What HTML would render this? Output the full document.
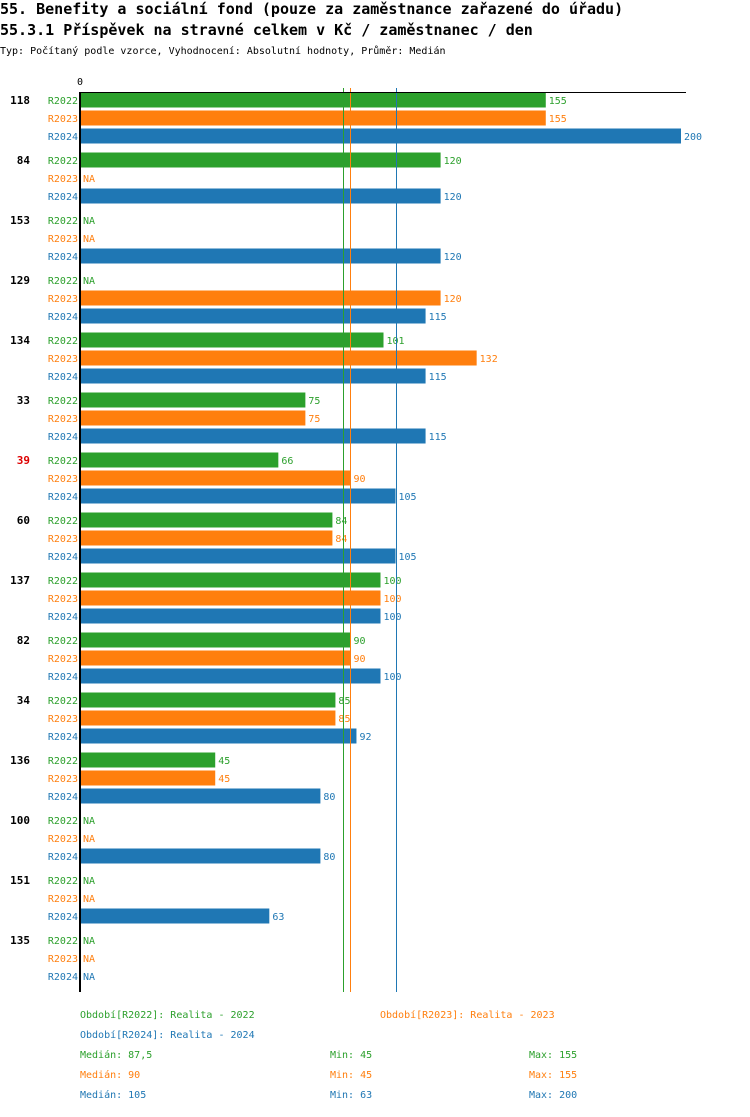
<!DOCTYPE html>
<html><head><meta charset="utf-8"><style>
body{margin:0;background:#fff;width:750px;height:1112px;overflow:hidden}
svg text{font-family:"DejaVu Sans Mono","Liberation Mono",monospace}
</style></head><body>
<svg width="750" height="1112">
<text x="0" y="14" font-size="15" font-weight="bold">55. Benefity a sociální fond (pouze za zaměstnance zařazené do úřadu)</text>
<text x="0" y="35" font-size="15" font-weight="bold">55.3.1 Příspěvek na stravné celkem v Kč / zaměstnanec / den</text>
<text x="0" y="54" font-size="10">Typ: Počítaný podle vzorce, Vyhodnocení: Absolutní hodnoty, Průměr: Medián</text>
<g id="plot"></g>
<g id="legend"></g>
</svg>
<script>
const categories=["118","84","153","129","134","33","39","60","137","82","34","136","100","151","135"];
const highlighted=["39"];
const series=["R2022","R2023","R2024"];
const r2022=[155,120,null,null,101,75,66,84,100,90,85,45,null,null,null];
const r2023=[155,null,null,120,132,75,90,84,100,90,85,45,null,null,null];
const r2024=[200,120,120,115,115,115,105,105,100,100,92,80,80,63,null];
const medians=[87.5,90,105];
const medianText=["87,5","90","105"];
const mins=[45,45,63];
const maxs=[155,155,200];
const colors=["#2ca02c","#ff7f0e","#1f77b4"];
const NS="http://www.w3.org/2000/svg";
const x0=80,xscale=601/200,top0=100,groupH=60,rowH=18,barH=15;
const X=v=>x0+v*xscale;
const g=document.getElementById('plot');
function mk(tag,attrs,parent,txt){const e=document.createElementNS(NS,tag);for(const k in attrs)e.setAttribute(k,attrs[k]);if(txt!==undefined)e.textContent=txt;(parent||g).appendChild(e);return e;}
const data=[r2022,r2023,r2024];
categories.forEach((c,i)=>{
  const gy=top0+i*groupH;
  const t=mk('text',{x:30,y:gy+4,'font-size':11,'font-weight':'bold','text-anchor':'end',fill:highlighted.includes(c)?'#d00':'#000'},g,c);
  
  
  data.forEach((arr,s)=>{
    const cy=gy+s*rowH;
    const l=mk('text',{x:78,y:cy+4,'font-size':10,'text-anchor':'end',fill:colors[s]},g,series[s]);
    
    
    const v=arr[i];
    if(v!==null){
      const r=mk('rect',{x:X(0),y:cy-7.5,width:X(v)-X(0),height:barH,fill:colors[s]});
      
      
    }
    const vt=mk('text',{x:(v===null?X(0):X(v))+3,y:cy+4,'font-size':10,fill:colors[s]},g,v===null?'NA':String(v));
    
    
  });
});
medians.forEach((m,s)=>{
  const px=Math.round(X(m))+0.5;
  const ln=mk('line',{x1:px,x2:px,y1:88,y2:992,stroke:colors[s],'stroke-width':1});
  
  
});
const ax=mk('line',{x1:80,x2:80,y1:92,y2:992,stroke:'#000','stroke-width':2});


const tx=mk('line',{x1:79,x2:686,y1:92.5,y2:92.5,stroke:'#000','stroke-width':1});


const zt=mk('text',{x:80,y:85,'font-size':10,'text-anchor':'middle'},g,'0');


const lg=document.getElementById('legend');
const lpos=[[80,1018],[380,1018],[80,1038]];
const lyears=["2022","2023","2024"];
series.forEach((s,i)=>{
  const e=mk('text',{x:lpos[i][0],y:lpos[i][1],'font-size':10,fill:colors[i]},lg,'Období['+s+']: Realita - '+lyears[i]);
  
  
  const y=1058+i*20;
  const a=mk('text',{x:80,y:y,'font-size':10,fill:colors[i]},lg,'Medián: '+medianText[i]);
  
  
  const b=mk('text',{x:330,y:y,'font-size':10,fill:colors[i]},lg,'Min: '+mins[i]);
  
  
  const c=mk('text',{x:529,y:y,'font-size':10,fill:colors[i]},lg,'Max: '+maxs[i]);
  
  
});
</script>
</body></html>
